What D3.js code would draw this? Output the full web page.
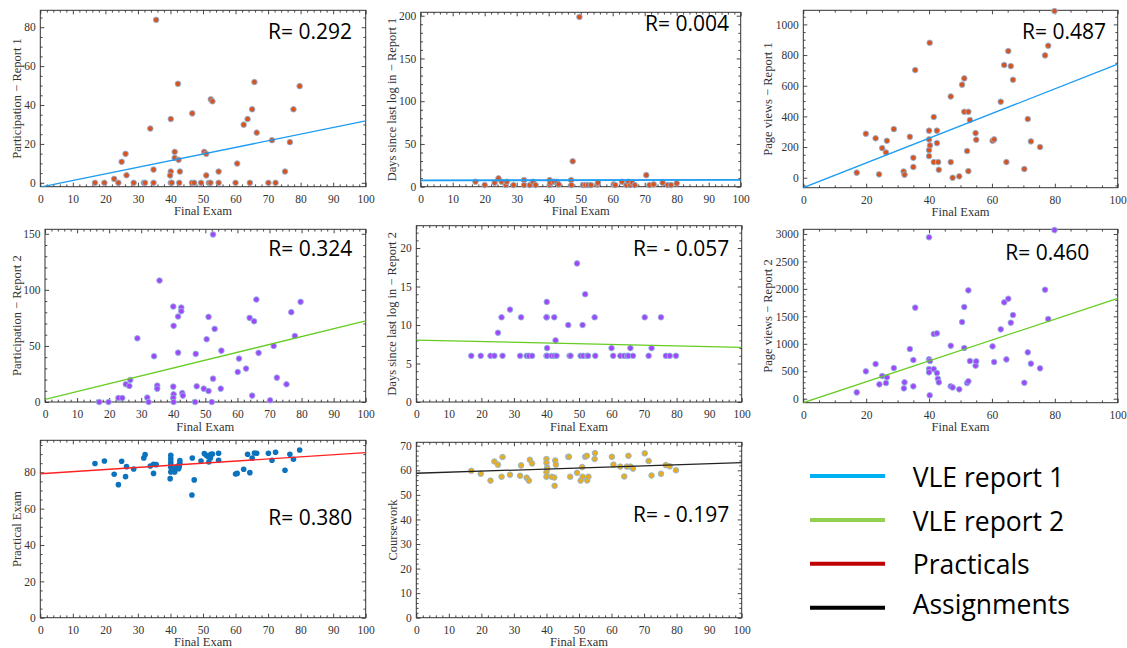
<!DOCTYPE html>
<html><head><meta charset="utf-8">
<script src="https://cdn.jsdelivr.net/npm/d3@7"></script>
<style>body{margin:0;background:#fff}svg{display:block}</style>
</head><body>
<svg id="c" width="1127" height="648"></svg>
<script>
// ---- data: [Final Exam, value] ----
const participationR1 = [[16.8,0],[19.7,0],[22.7,2],[24.0,0],[25.0,10.8],[26.2,14.9],[26.5,3.9],[28.7,0],[31.8,0],[32.2,0],[33.8,27.9],[34.8,0],[34.8,6.8],[35.6,83.8],[40.1,32.8],[40.1,5.8],[39.9,3.8],[40.1,0],[40.4,0],[41.3,15.9],[41.3,12.8],[42.3,50.9],[42.5,11.8],[42.9,5.8],[42.7,0],[46.7,35.7],[46.6,0],[47.3,0],[49.4,0],[50.4,15.9],[51.0,14.9],[51.0,3.8],[51.8,0],[52.3,0],[52.4,42.9],[52.9,41.9],[54.8,5.8],[54.8,0],[60.0,0],[60.5,9.9],[62.5,29.9],[63.7,32.8],[64.4,0],[65.1,37.8],[65.8,51.8],[66.5,25.8],[70.1,0],[71.2,21.9],[72.3,0],[75.2,5.8],[76.7,20.9],[77.8,37.8],[79.7,49.7]];
const daysR1 = [[17.1,5.8],[20.0,1.9],[23.1,4.6],[24.3,9.7],[25.3,5.8],[26.6,1.9],[26.9,5.8],[29.0,1.9],[32.3,7.7],[32.3,1.9],[34.1,1.9],[35.1,5.8],[35.9,1.9],[40.3,7.7],[40.3,1.9],[40.5,4.6],[41.6,5.8],[42.5,5.8],[43.1,2.7],[47.0,7.7],[47.1,1.9],[47.5,29.7],[49.6,198.5],[50.7,1.9],[51.5,1.9],[52.3,1.9],[53.2,1.9],[55.2,2.7],[55.4,4.6],[60.3,2.7],[60.8,1.9],[62.9,5.8],[64.3,1.9],[64.9,5.8],[65.5,1.9],[66.1,4.6],[66.9,1.9],[70.5,13.5],[71.5,1.9],[72.8,2.7],[75.6,4.6],[77.2,1.9],[78.2,1.9],[80.0,3.9]];
const pageViewsR1 = [[17.0,33],[19.9,287],[23.0,257],[24.1,22],[25.1,193],[26.3,165],[26.6,241],[28.8,317],[31.9,41],[32.2,20],[33.9,267],[35.0,130],[35.0,70],[35.6,702],[40.0,307],[40.0,250],[40.0,180],[40.0,141],[40.2,880],[40.3,211],[41.5,396],[41.5,102],[42.5,307],[42.5,226],[42.9,102],[43.1,52],[46.9,530],[46.9,102],[47.5,0],[49.6,9],[50.5,607],[51.2,648],[51.2,430],[52.1,174],[52.5,430],[52.5,43],[53.0,376],[54.8,291],[55.0,248],[60.2,241],[60.7,250],[62.8,496],[63.9,735],[64.6,102],[65.2,826],[66.0,728],[66.7,639],[70.3,57],[71.4,383],[72.4,237],[75.3,200],[76.9,798],[77.9,861],[79.9,1087]];
const participationR2 = [[16.9,0],[19.8,0],[22.9,3.6],[24.1,3.6],[25.2,15.8],[26.3,14.3],[26.6,19.6],[28.8,56.8],[31.9,3.9],[32.3,0],[34.0,40.8],[35.0,14.6],[35.0,11.9],[35.7,108.3],[40.0,85.1],[40.1,67.9],[40.0,13.7],[40.1,6.8],[40.0,3.6],[40.1,0],[41.5,76.2],[41.5,44.0],[42.5,84.2],[42.5,81.0],[42.8,8.0],[43.0,5.7],[46.8,0],[47.0,42.9],[47.3,14.0],[49.5,11.9],[50.4,56.0],[51.0,75.9],[51.0,9.8],[52.0,0],[52.4,20.8],[52.4,149.4],[52.9,65.2],[54.8,11.9],[55.0,45.8],[60.1,26.8],[60.5,38.7],[62.7,29.8],[63.8,75.0],[64.6,5.7],[65.2,72.0],[65.9,91.4],[66.6,43.8],[70.2,1.5],[71.3,50.0],[72.3,21.7],[75.3,15.8],[76.8,80.1],[77.9,58.9],[79.7,89.3]];
const daysR2 = [[16.9,6],[19.8,6],[22.8,6],[24.0,6],[26.5,6],[31.9,6],[33.9,6],[34.6,6],[35.6,6],[40.0,6],[40.2,6],[41.6,6],[42.4,6],[43.1,6],[47.1,6],[47.4,6],[50.5,6],[51.3,6],[52.4,6],[52.8,6],[55.0,6],[60.5,6],[62.7,6],[63.9,6],[64.8,6],[65.2,6],[66.6,6],[71.4,6],[76.7,6],[77.9,6],[79.8,6],[25.1,9],[26.2,11],[28.8,12],[32.2,11],[40.1,13],[40.1,11],[40.0,11],[40.2,7],[42.4,11],[42.8,8],[46.7,10],[49.4,18],[51.1,10],[51.9,14],[54.8,11],[60.0,7],[65.8,7],[70.2,11],[72.3,7],[75.2,11]];
const pageViewsR2 = [[17.0,115],[19.9,498],[23.0,631],[24.2,261],[25.1,413],[26.3,285],[26.6,389],[28.8,559],[32.0,188],[32.2,298],[33.9,905],[35.0,704],[35.0,225],[35.6,1658],[40.0,2939],[40.0,716],[40.0,540],[40.0,480],[40.2,61],[40.3,686],[41.5,1178],[41.5,540],[42.5,1190],[42.5,468],[42.8,364],[43.1,298],[46.9,965],[46.9,225],[47.5,206],[49.6,170],[50.5,1396],[51.2,1670],[51.2,923],[52.1,285],[52.5,1973],[52.5,316],[53.0,686],[54.8,601],[55.0,680],[60.2,953],[60.7,668],[62.8,1263],[63.9,1755],[64.6,716],[65.2,1821],[66.0,1384],[66.7,1524],[70.3,291],[71.4,844],[72.4,638],[75.3,553],[76.9,1985],[77.9,1451],[79.9,3072]];
const practicalExam = [[16.8,84.8],[19.7,86.2],[22.7,78.9],[24.0,73.2],[25.0,86.1],[26.2,77.6],[26.5,83.1],[28.7,81.8],[31.8,87.9],[32.2,89.7],[33.8,83.5],[34.8,79.4],[34.8,84.4],[35.6,84.2],[40.1,89.4],[40.1,87.5],[40.1,85.7],[40.1,84.2],[40.1,82.8],[40.1,80.2],[39.9,76.5],[40.4,81.7],[41.3,82.6],[41.3,80.2],[42.3,83.5],[42.5,82.0],[42.9,85.0],[42.9,86.4],[42.7,83.1],[46.7,87.9],[46.6,67.5],[47.3,75.8],[49.4,86.2],[50.4,90.3],[51.0,89.4],[51.6,88.6],[51.8,85.7],[52.3,87.9],[52.4,89.9],[52.9,90.1],[54.8,90.5],[54.8,86.6],[60.0,79.1],[60.5,79.4],[62.5,81.7],[63.7,89.9],[64.4,79.8],[65.1,87.9],[65.8,90.6],[66.5,90.5],[70.1,90.5],[71.2,86.6],[72.3,91.0],[75.2,81.1],[76.7,89.9],[77.8,87.2],[79.7,92.3]];
const coursework = [[16.9,59.8],[19.8,58.6],[22.8,55.8],[24.0,63.6],[25.1,62.3],[26.2,57.4],[26.5,65.4],[28.8,58.2],[31.9,57.8],[32.2,62.0],[33.9,57.0],[34.6,55.8],[34.9,64.3],[35.6,62.8],[40.0,64.6],[40.0,63.1],[40.2,61.2],[40.2,60.5],[40.0,59.2],[40.0,57.4],[41.6,57.4],[42.4,57.1],[42.7,64.0],[42.9,62.3],[42.5,53.7],[46.7,65.5],[46.9,65.5],[47.3,57.4],[49.4,59.0],[50.5,55.8],[51.0,61.3],[51.1,57.4],[51.9,65.5],[52.4,65.9],[52.5,55.9],[52.9,57.4],[54.8,64.6],[54.9,67.0],[60.1,65.5],[60.6,62.3],[62.7,61.5],[63.9,57.5],[64.7,61.5],[65.2,65.9],[65.8,61.5],[66.6,60.7],[70.2,66.9],[71.4,63.8],[72.3,57.9],[75.2,58.6],[76.7,62.1],[77.9,61.6],[79.8,60.0]];

// regression lines: value at Final Exam = 0 and = 100
const fitX = [0, 100];
const fitParticipationR1 = [-2.2, 31.8];
const fitDaysR1 = [7.3, 8.1];
const fitPageViewsR1 = [-65, 741];
const fitParticipationR2 = [2.4, 72.3];
const fitDaysR2 = [8.05, 7.1];
const fitPageViewsR2 = [-73, 1828];
const fitPractical = [79.2, 90.8];
const fitCoursework = [58.8, 63.1];

const rLabels = ["R= 0.292","R= 0.004","R= 0.487","R= 0.324","R= - 0.057","R= 0.460","R= 0.380","R= - 0.197"];
const yTitles = ["Participation \u2212 Report 1","Days since last log in \u2212 Report 1","Page views \u2212 Report 1",
  "Participation \u2212 Report 2","Days since last log in \u2212 Report 2","Page views \u2212 Report 2","Practical Exam","Coursework"];
const legendNames = ["VLE report 1","VLE report 2","Practicals","Assignments"];
const legendColors = ["#00b0f0","#92d050","#c00000","#000000"];

// ---- layout / style ----
const ORANGE="#d9531e", PURPLE="#a046fc", BLUE="#0b72bd", YELLOW="#e9ad1c";
const LBLUE="#1c9cf2", LGREEN="#66cc22", LRED="#ff2222", LBLACK="#222";
const SERIF="'Liberation Serif', 'Times New Roman', Times, serif";
const panels = [
  {data:participationR1, fit:fitParticipationR1, box:[40.3,10.3,365.7,186.7], yDom:[-2,88.7], yMax:80, yStep:20, yMinor:5, xStep:10, xMinor:2, fill:ORANGE, edge:true, line:LBLUE, lw:1.3, ylx:20.5, rPos:[352,39.3]},
  {data:daysR1, fit:fitDaysR1, box:[420.7,12.3,740.7,186.7], yDom:[0,204], yMax:200, yStep:50, yMinor:10, xStep:10, xMinor:2, fill:ORANGE, edge:true, line:LBLUE, lw:1.8, ylx:395.7, rPos:[729,31]},
  {data:pageViewsR1, fit:fitPageViewsR1, box:[803.3,10.3,1117.7,187.7], yDom:[-65,1092], yMax:1000, yStep:200, yMinor:50, xStep:20, xMinor:5, fill:ORANGE, edge:true, line:LBLUE, lw:1.3, ylx:771.7, rPos:[1106,39.3]},
  {data:participationR2, fit:fitParticipationR2, box:[45,229.3,365.7,402], yDom:[0,154], yMax:150, yStep:50, yMinor:10, xStep:10, xMinor:2, fill:PURPLE, edge:true, line:LGREEN, lw:1.3, ylx:20.5, rPos:[352.3,256]},
  {data:daysR2, fit:fitDaysR2, box:[416.3,225.7,741.7,402], yDom:[0,22.9], yMax:20, yStep:5, yMinor:1, xStep:10, xMinor:2, fill:PURPLE, edge:true, line:LGREEN, lw:1.3, ylx:395.7, rPos:[729.3,256]},
  {data:pageViewsR2, fit:fitPageViewsR2, box:[803.3,229.3,1117.7,402.7], yDom:[-73,3085], yMax:3000, yStep:500, yMinor:100, xStep:20, xMinor:5, fill:PURPLE, edge:true, line:LGREEN, lw:1.3, ylx:771.7, rPos:[1089.3,260]},
  {data:practicalExam, fit:fitPractical, box:[40.3,440.3,365.7,617.7], yDom:[0,97.6], yMax:80, yStep:20, yMinor:5, xStep:10, xMinor:2, fill:BLUE, edge:false, line:LRED, lw:1.3, ylx:20.7, rPos:[352.3,525]},
  {data:coursework, fit:fitCoursework, box:[416.3,442.3,741.7,617.7], yDom:[0,71.4], yMax:70, yStep:10, yMinor:2, xStep:10, xMinor:2, fill:YELLOW, edge:true, line:LBLACK, lw:1.3, ylx:396.7, rPos:[729.3,521.7]}
];

const svg = d3.select("#c");
const AX = "#333";
const fmt = d3.format("d");
function styleAxis(g){
  g.attr("font-family",SERIF).attr("font-size",11.5);
  g.select(".domain").remove();
  g.selectAll("line").attr("stroke",AX).attr("stroke-width",0.9);
  g.selectAll("text").attr("font-family",SERIF).attr("font-size",11.5).attr("fill","#333");
}

panels.forEach((p,i)=>{
  const [L,T,R,B] = p.box;
  const x = d3.scaleLinear().domain([0,100]).range([L,R]);
  const y = d3.scaleLinear().domain(p.yDom).range([B,T]);
  const xt = d3.range(0,100+1e-6,p.xStep);
  const xm = d3.range(0,100+1e-6,p.xMinor).filter(v=>Math.abs(v/p.xStep-Math.round(v/p.xStep))>1e-6);
  const yt = d3.range(0,p.yMax+1e-6,p.yStep);
  const ym = d3.range(Math.ceil(p.yDom[0]/p.yMinor)*p.yMinor, p.yDom[1]+1e-6, p.yMinor).filter(v=>Math.abs(v/p.yStep-Math.round(v/p.yStep))>1e-6);
  const g = svg.append("g");

  const cid = "clip"+i;
  svg.append("clipPath").attr("id",cid).append("rect").attr("x",L).attr("y",T).attr("width",R-L).attr("height",B-T);

  g.append("g").attr("transform",`translate(0,${B})`).call(d3.axisBottom(x).tickValues(xt).tickFormat(fmt).tickSize(-4).tickSizeOuter(0).tickPadding(8)).call(styleAxis);
  g.append("g").attr("transform",`translate(0,${B})`).call(d3.axisBottom(x).tickValues(xm).tickSize(-2.3).tickSizeOuter(0).tickFormat("")).call(styleAxis);
  g.append("g").attr("transform",`translate(0,${T})`).call(d3.axisTop(x).tickValues(xt).tickSize(-4).tickSizeOuter(0).tickFormat("")).call(styleAxis);
  g.append("g").attr("transform",`translate(0,${T})`).call(d3.axisTop(x).tickValues(xm).tickSize(-2.3).tickSizeOuter(0).tickFormat("")).call(styleAxis);
  g.append("g").attr("transform",`translate(${L},0)`).call(d3.axisLeft(y).tickValues(yt).tickFormat(fmt).tickSize(-4).tickSizeOuter(0).tickPadding(4.5)).call(styleAxis);
  g.append("g").attr("transform",`translate(${L},0)`).call(d3.axisLeft(y).tickValues(ym).tickSize(-2.3).tickSizeOuter(0).tickFormat("")).call(styleAxis);
  g.append("g").attr("transform",`translate(${R},0)`).call(d3.axisRight(y).tickValues(yt).tickSize(-4).tickSizeOuter(0).tickFormat("")).call(styleAxis);
  g.append("g").attr("transform",`translate(${R},0)`).call(d3.axisRight(y).tickValues(ym).tickSize(-2.3).tickSizeOuter(0).tickFormat("")).call(styleAxis);

  g.append("rect").attr("x",L).attr("y",T).attr("width",R-L).attr("height",B-T).attr("fill","none").attr("stroke",AX).attr("stroke-width",1);

  g.append("g").selectAll("circle").data(p.data).join("circle")
    .attr("cx",d=>x(d[0])).attr("cy",d=>y(d[1])).attr("r",2.8)
    .attr("fill",p.fill)
    .attr("stroke",p.edge?"#8db6dd":"none").attr("stroke-width",0.9);

  g.append("line").attr("clip-path",`url(#${cid})`)
    .attr("x1",x(fitX[0])).attr("y1",y(p.fit[0])).attr("x2",x(fitX[1])).attr("y2",y(p.fit[1]))
    .attr("stroke",p.line).attr("stroke-width",p.lw);

  g.append("text").attr("x",(L+R)/2).attr("y",B+28.5).attr("text-anchor","middle")
    .attr("font-family",SERIF).attr("font-size",12.5).attr("fill","#333").text("Final Exam");
  g.append("text").attr("transform",`translate(${p.ylx},${(T+B)/2}) rotate(-90)`).attr("text-anchor","middle")
    .attr("font-family",SERIF).attr("font-size",12.5).attr("fill","#333").text(yTitles[i]);
  g.append("text").attr("x",p.rPos[0]).attr("y",p.rPos[1]).attr("text-anchor","end")
    .attr("font-family","'Open Sans', sans-serif").attr("font-size",21).attr("fill","#000").text(rLabels[i]);
});

const legY = d3.scalePoint().domain(legendNames).range([476,607.7]);
const legTextDy = [10.7,10.7,10,6.3];
const leg = svg.append("g");
legendNames.forEach((n,i)=>{
  leg.append("line").attr("x1",810).attr("x2",885).attr("y1",legY(n)).attr("y2",legY(n))
    .attr("stroke",legendColors[i]).attr("stroke-width",4);
  leg.append("text").attr("x",912.7).attr("y",legY(n)+legTextDy[i])
    .attr("font-family","'Open Sans', sans-serif").attr("font-size",26.5).attr("fill","#000").text(n);
});
</script>
</body></html>
